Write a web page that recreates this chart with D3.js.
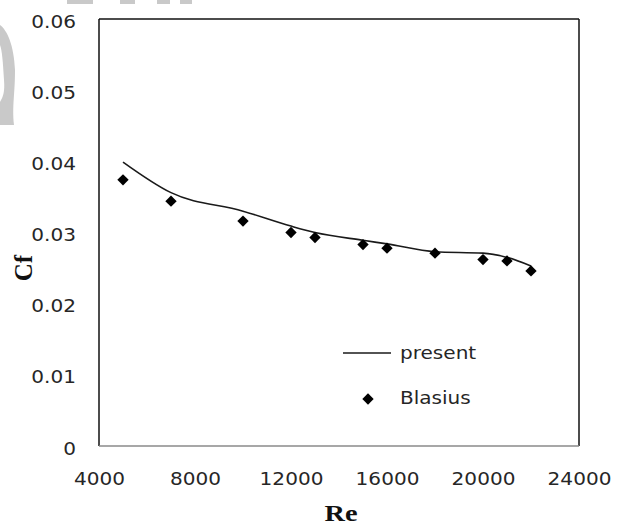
<!DOCTYPE html>
<html>
<head>
<meta charset="utf-8">
<script src="https://cdn.jsdelivr.net/npm/d3@7"></script>
<style>
  body { margin: 0; background: #fff; }
  svg { display: block; }
</style>
</head>
<body>
<script>
// values
var reValues   = [5000, 7000, 10000, 12000, 13000, 15000, 16000, 18000, 20000, 21000, 22000];
var presentCf  = [0.0399, 0.0356, 0.0330, 0.0309, 0.0300, 0.0289, 0.0284, 0.0273, 0.0271, 0.0265, 0.0253];
var blasiusCf  = [0.0374, 0.0344, 0.0316, 0.0300, 0.0293, 0.0283, 0.0278, 0.0271, 0.0262, 0.0260, 0.0246];
var xTicks = [4000, 8000, 12000, 16000, 20000, 24000];
var yTicks = [0, 0.01, 0.02, 0.03, 0.04, 0.05, 0.06];
var seriesNames = ['present', 'Blasius'];

var W = 623, H = 529;
var plot = {left: 99, right: 579, top: 19, bottom: 446};
var textColor = '#262626';
var sansFont = '"DejaVu Sans", Verdana, sans-serif';
var serifFont = '"Liberation Serif", "Times New Roman", serif';

var svg = d3.select('body').append('svg')
    .attr('width', W)
    .attr('height', H);

// faint watermark remnants
var wm = svg.append('g').attr('fill', '#c9c9c9');
wm.append('path')
    .attr('d', 'M0,25 C7,30 14,45 15,70 C15,95 12,105 14,125 L0,125 L0,102 C3,97 5,92 4,80 C3,62 2,50 0,45 Z');
wm.append('rect').attr('x', 67).attr('y', 0).attr('width', 26).attr('height', 4);
wm.append('rect').attr('x', 120).attr('y', 0).attr('width', 15).attr('height', 4);
wm.append('rect').attr('x', 157).attr('y', 0).attr('width', 13).attr('height', 4);
wm.append('rect').attr('x', 180).attr('y', 0).attr('width', 12).attr('height', 4);

var x = d3.scaleLinear().domain([4000, 24000]).range([plot.left, plot.right]);
var y = d3.scaleLinear().domain([0, 0.06]).range([plot.bottom, plot.top]);

// y axis labels
var yAxis = svg.append('g')
    .attr('transform', 'translate(' + plot.left + ',0)')
    .call(d3.axisLeft(y).tickValues(yTicks).tickSize(0)
        .tickFormat(function (d) { return d === 0 ? '0' : d.toFixed(2); }));
yAxis.select('.domain').remove();
yAxis.selectAll('text')
    .attr('x', 0).attr('dy', null)
    .attr('transform', 'translate(-23,8) scale(1.18,1)')
    .attr('text-anchor', 'end')
    .style('font-family', sansFont)
    .style('font-size', '17px')
    .attr('fill', textColor);

// x axis labels
var xAxis = svg.append('g')
    .attr('transform', 'translate(0,' + plot.bottom + ')')
    .call(d3.axisBottom(x).tickValues(xTicks).tickSize(0).tickFormat(d3.format('d')));
xAxis.select('.domain').remove();
xAxis.selectAll('text')
    .attr('y', 0).attr('dy', null)
    .attr('transform', 'translate(0,39) scale(1.18,1)')
    .attr('text-anchor', 'middle')
    .style('font-family', sansFont)
    .style('font-size', '17px')
    .attr('fill', textColor);

// plot frame
var frame = svg.append('g').attr('stroke-width', 1.5).attr('fill', 'none');
frame.append('line').attr('x1', plot.left).attr('x2', plot.right).attr('y1', plot.top).attr('y2', plot.top).attr('stroke', '#111');
frame.append('line').attr('x1', plot.left).attr('x2', plot.left).attr('y1', plot.top).attr('y2', plot.bottom).attr('stroke', '#111');
frame.append('line').attr('x1', plot.right).attr('x2', plot.right).attr('y1', plot.top).attr('y2', plot.bottom).attr('stroke', '#111');
frame.append('line').attr('x1', plot.left).attr('x2', plot.right).attr('y1', plot.bottom).attr('y2', plot.bottom).attr('stroke', '#8a8a8a');

// present (line)
var line = d3.line()
    .x(function (d, i) { return x(reValues[i]); })
    .y(function (d) { return y(d); })
    .curve(d3.curveMonotoneX);

svg.append('path')
    .datum(presentCf)
    .attr('d', line)
    .attr('fill', 'none')
    .attr('stroke', '#1a1a1a')
    .attr('stroke-width', 1.6);

// Blasius (diamonds)
var diamond = d3.symbol().type(d3.symbolSquare).size(64);
svg.append('g').selectAll('path')
    .data(blasiusCf)
    .enter()
    .append('path')
    .attr('d', diamond)
    .attr('transform', function (d, i) {
        return 'translate(' + x(reValues[i]) + ',' + y(d) + ') rotate(45)';
    })
    .attr('fill', '#000');

// legend
var legend = svg.append('g');
legend.append('line')
    .attr('x1', 343).attr('x2', 391).attr('y1', 353).attr('y2', 353)
    .attr('stroke', '#1a1a1a').attr('stroke-width', 1.6);
legend.append('path')
    .attr('d', diamond)
    .attr('transform', 'translate(368,399) rotate(45)')
    .attr('fill', '#000');
legend.selectAll('text')
    .data(seriesNames)
    .enter()
    .append('text')
    .attr('transform', function (d, i) { return 'translate(400,' + (359 + i * 45) + ') scale(1.18,1)'; })
    .style('font-family', sansFont)
    .style('font-size', '17px')
    .attr('fill', textColor)
    .text(function (d) { return d; });

// axis titles
svg.append('text')
    .attr('transform', 'translate(341,521) scale(1.18,1)')
    .attr('text-anchor', 'middle')
    .style('font-family', serifFont)
    .style('font-weight', 'bold')
    .style('font-size', '24px')
    .attr('fill', '#111')
    .text('Re');

svg.append('text')
    .attr('transform', 'translate(32,268) rotate(-90)')
    .attr('text-anchor', 'middle')
    .style('font-family', serifFont)
    .style('font-weight', 'bold')
    .style('font-size', '25px')
    .attr('fill', '#111')
    .text('Cf');
</script>
</body>
</html>
